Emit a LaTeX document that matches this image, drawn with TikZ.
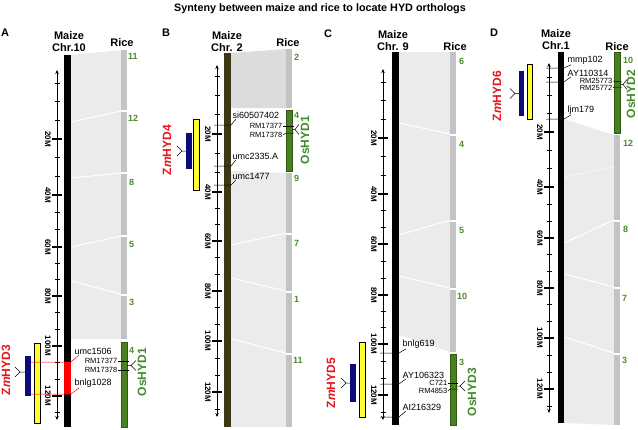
\documentclass[tikz,border=0pt]{standalone}
\usepackage{fontspec}
\setmainfont{Liberation Sans}
\usetikzlibrary{arrows.meta}

\definecolor{syngray}{HTML}{EBEBEB}
\definecolor{syndark}{HTML}{DCDCDC}
\definecolor{ricegray}{HTML}{C3C3C3}
\definecolor{osfill}{HTML}{4A7F22}
\definecolor{osedge}{HTML}{2E5A12}
\definecolor{ostext}{HTML}{3F8A2A}
\definecolor{numgreen}{HTML}{4E8A2E}
\definecolor{zmred}{HTML}{E8141B}
\definecolor{genenavy}{HTML}{0B0B7A}
\definecolor{qtlyellow}{HTML}{FFFF33}
\definecolor{chrolive}{HTML}{3A3815}

% ruler: x, top, bottom, then the six majors (20M ... 120M)
\newcommand\ruler[9]{%
  \draw[axis] (#1,#3) -- (#1,#2);
  \foreach \k in {1,2,3}
    \draw[minor] (#1-2.5,{#4-\k*(#5-#4)/3}) -- (#1+2.5,{#4-\k*(#5-#4)/3});
  \foreach \a/\b in {#4/#5,#5/#6,#6/#7,#7/#8,#8/#9}
    \foreach \k in {1,2}
      \draw[minor] (#1-2.5,{\a+\k*(\b-\a)/3}) -- (#1+2.5,{\a+\k*(\b-\a)/3});
  \draw[minor] (#1-2.5,{#9+(#9-#8)/3}) -- (#1+2.5,{#9+(#9-#8)/3});
  \foreach \y [count=\i] in {#4,#5,#6,#7,#8,#9}{
    \pgfmathtruncatemacro\mm{20*\i}
    \draw[major] (#1-5,\y) -- (#1+5,\y);
    \node[mlab] (\pan-\mm) at (#1-6,\y) {\mm M};
  }
}
% fork between a bar and a gene name
\newcommand\fork[3]{%
  \draw[link] (#1) -- ++(#2,0) coordinate (#1-tip) -- ++(#3,-5)
    (#1-tip) -- ++(#3,5);
}

\begin{document}
\begin{tikzpicture}[x=1pt, y=-1pt,
    ttl/.style={font=\bfseries\fontsize{10.8}{12}\selectfont, inner sep=0pt},
    hd/.style={font=\bfseries\fontsize{11}{12}\selectfont, align=center, inner sep=0pt},
    axis/.style={{Stealth[length=4pt,width=3.5pt]}-{Stealth[length=4pt,width=3.5pt]}, line width=0.8pt},
    major/.style={line width=1.4pt},
    minor/.style={line width=0.6pt},
    mlab/.style={font=\bfseries\fontsize{8}{9}\selectfont, rotate=-90, inner sep=0pt, anchor=north},
    syn/.style={fill=syngray, draw=none},
    cut/.style={draw=white, line width=1pt},
    rice/.style={fill=ricegray, draw=none},
    osbar/.style={fill=osfill, draw=osedge, line width=0.6pt},
    num/.style={font=\bfseries\fontsize{9}{10}\selectfont, text=numgreen, inner sep=0pt, anchor=west},
    mk/.style={font=\fontsize{9}{10}\selectfont, inner sep=0.5pt, anchor=west},
    rm/.style={font=\fontsize{7.5}{8}\selectfont, inner sep=0.5pt, anchor=east},
    link/.style={line width=0.5pt},
    qtl/.style={fill=qtlyellow, draw=black, line width=0.5pt},
    gene/.style={fill=genenavy, draw=none},
    zm/.style={font=\bfseries\fontsize{12}{13}\selectfont, text=zmred, rotate=90, inner sep=0pt},
    os/.style={font=\bfseries\fontsize{12}{13}\selectfont, text=ostext, rotate=90, inner sep=0pt},
]
\useasboundingbox (0,0) rectangle (638,429);

\node[ttl] (title) at (320,9) {Synteny between maize and rice to locate HYD orthologs};

% ---------------- A ----------------
\node[hd] (A-lab) at (5,33) {A};
\node[hd] (A-maize) at (69,42) {Maize\\Chr.10};
\node[hd] (A-rice) at (122,43) {Rice};
\fill[syngray] (71,55) -- (121,50) -- (121,339) -- (71,339) -- cycle;
\draw[cut] (71,122) -- (121,111);
\draw[cut] (71,178) -- (121,173);
\draw[cut] (71,247) -- (121,236);
\draw[cut] (71,281) -- (121,294);
\fill[rice] (121,50) rectangle (127,110);
\fill[rice] (121,112) rectangle (127,172);
\fill[rice] (121,174) rectangle (127,235);
\fill[rice] (121,237) rectangle (127,294);
\fill[rice] (121,296) rectangle (127,339);
\draw[osbar] (121,342) rectangle (127,427);
\node[num] (A-11) at (128,56) {11};
\node[num] (A-12) at (128,118) {12};
\node[num] (A-8) at (129,182) {8};
\node[num] (A-5) at (129,244) {5};
\node[num] (A-3) at (129,302) {3};
\node[num] (A-4) at (129,350) {4};
\def\pan{A}
\ruler{57}{70}{420}{139}{195}{247}{296}{346}{396}
\draw[qtl] (34,343) rectangle (40,423);
\fill[gene] (25,356) rectangle (31,396);
\coordinate (A-g) at (25,372);
\fork{A-g}{-5}{-5}
\node[zm] (A-zm) at (6,370) {Z\textit{m}HYD3};
\fill[black] (64,55) rectangle (71,427);
\fill[red] (64,362) rectangle (71,394);
\node[mk] (A-m1) at (74,351) {umc1506};
\node[mk] (A-m2) at (74,383) {bnlg1028};
\coordinate (A-p1) at (31,362);
\coordinate (A-p2) at (31,394);
\draw[link, red] (A-p1) -- (71,362) -- ([xshift=5pt]A-m1.south west);
\draw[link, red] (A-p2) -- (71,394) -- ([xshift=5pt]A-m2.south west);
\node[rm] (A-r1) at (118,361) {RM17377};
\node[rm] (A-r2) at (118,370) {RM17378};
\draw[link] (A-r1.east) -- (129,361);
\draw[link] (A-r2.east) -- (129,370);
\coordinate (A-o) at (127,365.5);
\fork{A-o}{4}{5}
\node[os] (A-os) at (142,372) {OsHYD1};

% ---------------- B ----------------
\node[hd] (B-lab) at (166,33) {B};
\node[hd] (B-maize) at (227,42) {Maize\\Chr. 2};
\node[hd] (B-rice) at (288,43) {Rice};
\fill[syndark] (231,53) -- (286,49) -- (286,108) -- (231,108) -- cycle;
\fill[syngray] (231,171) -- (286,173) -- (286,427) -- (231,427) -- cycle;
\draw[cut] (231,245) -- (286,233);
\draw[cut] (231,278) -- (286,291);
\draw[cut] (231,339) -- (286,353);
\fill[rice] (286,49) rectangle (292,108);
\draw[osbar] (286,110) rectangle (292,171);
\fill[rice] (286,173) rectangle (292,233);
\fill[rice] (286,235) rectangle (292,291);
\fill[rice] (286,293) rectangle (292,353);
\fill[rice] (286,355) rectangle (292,427);
\node[num] (B-2) at (294,57) {2};
\node[num] (B-4) at (294,115) {4};
\node[num] (B-9) at (294,178) {9};
\node[num] (B-7) at (294,243) {7};
\node[num] (B-1) at (294,299) {1};
\node[num] (B-11) at (293,360) {11};
\def\pan{B}
\ruler{217}{65}{417}{134}{192}{241}{291}{341}{392}
\draw[qtl] (193,119) rectangle (199,190);
\fill[gene] (186,133) rectangle (192,169);
\coordinate (B-g) at (186,151);
\fork{B-g}{-4}{-5}
\node[zm] (B-zm) at (167,150) {Z\textit{m}HYD4};
\fill[chrolive] (224,53) rectangle (231,427);
\node[mk] (B-m1) at (232,115) {si60507402};
\node[mk] (B-m2) at (232,156) {umc2335.A};
\node[mk] (B-m3) at (232,176) {umc1477};
\coordinate (B-p1) at (214,125);
\coordinate (B-p2) at (214,166);
\coordinate (B-p3) at (214,185);
\draw[link] (B-p1) -- (231,125) -- ([xshift=4pt]B-m1.south west);
\draw[link] (B-p2) -- (231,166) -- ([xshift=4pt]B-m2.south west);
\draw[link] (B-p3) -- (231,185) -- ([xshift=4pt]B-m3.south west);
\node[rm] (B-r1) at (283,126) {RM17377};
\node[rm] (B-r2) at (283,135) {RM17378};
\draw[link] (B-r1.east) -- (294,126);
\draw[link] (B-r2.east) -- (286,133) -- (294,133);
\coordinate (B-o) at (292,129.5);
\fork{B-o}{3}{4}
\node[os] (B-os) at (305,140) {OsHYD1};

% ---------------- C ----------------
\node[hd] (C-lab) at (328,34) {C};
\node[hd] (C-maize) at (393,41) {Maize\\Chr. 9};
\node[hd] (C-rice) at (455,47) {Rice};
\fill[syngray] (399,52) -- (450,52) -- (450,352) -- (399,335) -- cycle;
\draw[cut] (399,123) -- (450,134);
\draw[cut] (399,235) -- (450,220);
\draw[cut] (399,276) -- (450,288);
\fill[rice] (450,52) rectangle (456,134);
\fill[rice] (450,136) rectangle (456,220);
\fill[rice] (450,222) rectangle (456,288);
\fill[rice] (450,290) rectangle (456,352);
\draw[osbar] (450,354) rectangle (456,425);
\node[num] (C-6) at (459,61) {6};
\node[num] (C-4) at (459,144) {4};
\node[num] (C-5) at (459,230) {5};
\node[num] (C-10) at (457,296) {10};
\node[num] (C-3) at (459,362) {3};
\def\pan{C}
\ruler{383}{69}{420}{138}{194}{244}{295}{344}{395}
\draw[qtl] (359,342) rectangle (365,417);
\fill[gene] (350,364) rectangle (356,402);
\coordinate (C-g) at (350,383);
\fork{C-g}{-4}{-5}
\node[zm] (C-zm) at (331,383) {Z\textit{m}HYD5};
\fill[black] (392,52) rectangle (399,425);
\node[mk] (C-m1) at (402,344) {bnlg619};
\node[mk] (C-m2) at (402,375) {AY106323};
\node[mk] (C-m3) at (402,407) {AI216329};
\coordinate (C-p1) at (380,353);
\coordinate (C-p2) at (380,384);
\coordinate (C-p3) at (380,417);
\draw[link] (C-p1) -- (399,353) -- ([xshift=4pt]C-m1.south west);
\draw[link] (C-p2) -- (399,384) -- ([xshift=4pt]C-m2.south west);
\draw[link] (C-p3) -- (399,417) -- ([xshift=4pt]C-m3.south west);
\node[rm] (C-r1) at (448,383) {C721};
\node[rm] (C-r2) at (448,391) {RM4853};
\draw[link] (C-r1.east) -- (458,383);
\draw[link] (C-r2.east) -- (450,389) -- (458,389);
\coordinate (C-o) at (456,386);
\fork{C-o}{4}{5}
\node[os] (C-os) at (472,392) {OsHYD3};

% ---------------- D ----------------
\node[hd] (D-lab) at (494,33) {D};
\node[hd] (D-maize) at (556,40) {Maize\\Chr.1};
\node[hd] (D-rice) at (617,47) {Rice};
\fill[syngray] (564,119) -- (614,135) -- (614,425) -- (564,423) -- cycle;
\draw[draw=white, line width=0.4pt] (564,177) -- (614,167);
\draw[cut] (564,243) -- (614,220);
\draw[cut] (564,274) -- (614,287);
\draw[cut] (564,337) -- (614,353);
\draw[osbar] (614,52) rectangle (620,133);
\fill[rice] (614,135) rectangle (620,220);
\fill[rice] (614,222) rectangle (620,287);
\fill[rice] (614,289) rectangle (620,353);
\fill[rice] (614,355) rectangle (620,425);
\node[num] (D-10) at (623,60) {10};
\node[num] (D-12) at (623,143) {12};
\node[num] (D-8) at (623,229) {8};
\node[num] (D-7) at (622,298) {7};
\node[num] (D-3) at (622,360) {3};
\def\pan{D}
\ruler{549}{63}{413}{132}{187}{238}{288}{338}{389}
\draw[qtl] (527,64) rectangle (532,119);
\fill[gene] (519,71) rectangle (524,116);
\coordinate (D-g) at (519,93.5);
\fork{D-g}{-4}{-5}
\node[zm] (D-zm) at (497,96) {Z\textit{m}HYD6};
\fill[black] (558,52) rectangle (564,423);
\node[mk] (D-m1) at (567,60) {mmp102};
\node[mk] (D-m2) at (567,73) {AY110314};
\node[mk] (D-m3) at (567,110) {ljm179};
\coordinate (D-p1) at (546,68);
\coordinate (D-p2) at (546,82);
\coordinate (D-p3) at (546,119);
\draw[link] (D-p1) -- (564,68) -- ([xshift=4pt]D-m1.south west);
\draw[link] (D-p2) -- (564,82) -- ([xshift=4pt]D-m2.south west);
\draw[link] (D-p3) -- (564,119) -- ([xshift=4pt]D-m3.south west);
\node[rm] (D-r1) at (613,81) {RM25773};
\node[rm] (D-r2) at (613,88) {RM25772};
\draw[link] (D-r1.east) -- (622,82);
\draw[link] (D-r2.east) -- (614,87) -- (622,87);
\coordinate (D-o) at (620,84.5);
\fork{D-o}{3}{4}
\node[os] (D-os) at (631,94) {OsHYD2};
\end{tikzpicture}
\end{document}
